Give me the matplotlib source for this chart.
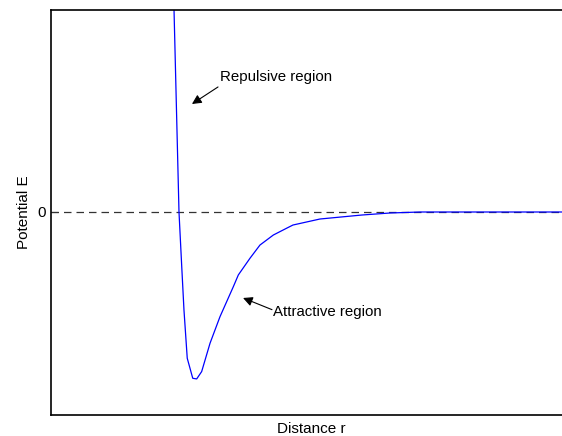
import numpy as np
import matplotlib.pyplot as plt

plt.rcParams['font.family'] = ['Liberation Sans', 'DejaVu Sans']

# values
r = [0.953, 1.0, 1.021, 1.038, 1.063, 1.105, 1.135, 1.173, 1.237, 1.313,
     1.415, 1.453, 1.542, 1.618, 1.72, 1.822, 1.87, 2.076, 2.397, 2.61,
     2.84, 4.0]
E = [1.5, 0.0, -0.328, -0.587, -0.876, -0.996, -1.0, -0.956, -0.786, -0.627,
     -0.447, -0.377, -0.277, -0.198, -0.138, -0.097, -0.078, -0.042, -0.018,
     -0.006, 0.0, 0.0]

labels = ["Repulsive region", "Attractive region"]
arrow_heads = [(1.099, 0.647), (1.489, -0.515)]
arrow_tails = [(1.298, 0.749), (1.71, -0.585)]
text_pos = [(1.313, 0.808), (1.718, -0.599)]

fig = plt.figure(figsize=(5.62, 4.36), dpi=100)
ax = fig.add_axes([51 / 562, 21 / 436, 521 / 562, 405 / 436])

ax.axhline(0, color='#333333', lw=0.9, ls=(0, (6, 4)))
ax.plot(r, E, color='#0000ff', lw=0.9)

for lab, h, t, p in zip(labels, arrow_heads, arrow_tails, text_pos):
    ax.annotate('', xy=h, xytext=t,
                arrowprops=dict(arrowstyle='-|>', color='black', lw=0.8,
                                mutation_scale=14, shrinkA=0, shrinkB=0))
    ax.text(p[0], p[1], lab, fontsize=10.8, va='center', ha='left')

ax.set_xlim(0.023, 4.0)
ax.set_ylim(-1.216, 1.21)
ax.set_xticks([])
ax.set_yticks([0])
ax.set_yticklabels(['0'], fontsize=11)
ax.tick_params(axis='y', direction='in', length=5, width=0.8, pad=4)
ax.set_xlabel('Distance r', fontsize=11, labelpad=5)
ax.set_ylabel('Potential E', fontsize=11, labelpad=4)
for s in ax.spines.values():
    s.set_linewidth(1.2)

fig.savefig('out.png', dpi=100)
